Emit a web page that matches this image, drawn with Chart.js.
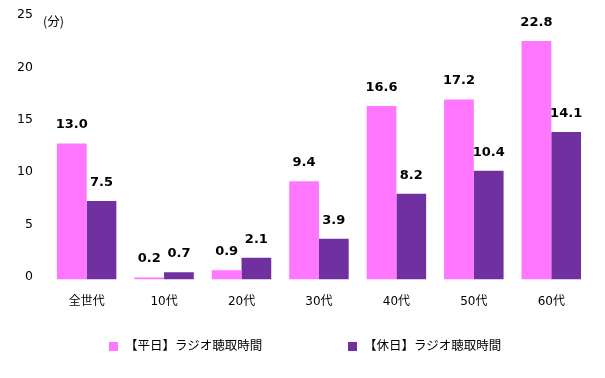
<!DOCTYPE html>
<html>
<head>
<meta charset="utf-8">
<script src="https://cdn.jsdelivr.net/npm/chart.js@4"></script>
<style>
  html, body { margin: 0; padding: 0; background: #fff; }
  #wrap { position: relative; width: 605px; height: 378px; }
  .lg { position: absolute; top: 336px; font: 12.5px "Noto Sans CJK JP", "DejaVu Sans", sans-serif; color: #000; white-space: nowrap; line-height: 18px; }
  .lg i { display: inline-block; width: 9px; height: 9px; margin-right: 7px; vertical-align: -0.5px; }
</style>
</head>
<body>
<div id="wrap">
  <canvas id="c" width="605" height="378"></canvas>
  <div class="lg" style="left:109px"><i style="background:#FF77FF"></i>【平日】ラジオ聴取時間</div>
  <div class="lg" style="left:348px"><i style="background:#7030A0"></i>【休日】ラジオ聴取時間</div>
</div>
<script>
const categories = ['全世代', '10代', '20代', '30代', '40代', '50代', '60代'];
const weekday = [13.0, 0.2, 0.9, 9.4, 16.6, 17.2, 22.8];
const holiday = [7.5, 0.7, 2.1, 3.9, 8.2, 10.4, 14.1];
const yTicks = [0, 5, 10, 15, 20, 25];

const FONT = '"DejaVu Sans", "Noto Sans CJK JP", sans-serif';

// value labels above bars + unit text
const valueLabels = {
  id: 'valueLabels',
  afterDatasetsDraw(chart) {
    const ctx = chart.ctx;
    ctx.save();
    ctx.font = 'bold 13px ' + FONT;
    ctx.fillStyle = '#000';
    ctx.textAlign = 'center';
    ctx.textBaseline = 'middle';
    chart.data.datasets.forEach((ds, i) => {
      chart.getDatasetMeta(i).data.forEach((bar, j) => {
        ctx.fillText(ds.data[j].toFixed(1), bar.x, bar.y - 18.5);
      });
    });
    ctx.font = '12.5px "Noto Sans CJK JP", sans-serif';
    ctx.textAlign = 'left';
    ctx.fillText('(分)', 43, 21);
    ctx.restore();
  }
};

new Chart(document.getElementById('c'), {
  type: 'bar',
  data: {
    labels: categories,
    datasets: [
      { label: '【平日】ラジオ聴取時間', data: weekday, backgroundColor: '#FF77FF' },
      { label: '【休日】ラジオ聴取時間', data: holiday, backgroundColor: '#7030A0' }
    ]
  },
  options: {
    responsive: false,
    animation: false,
    layout: { padding: { left: 2, right: 15, top: 18, bottom: 54 } },
    datasets: { bar: { barPercentage: 1, categoryPercentage: 0.768 } },
    plugins: { legend: { display: false }, tooltip: { enabled: false } },
    scales: {
      x: {
        grid: { display: false, drawTicks: false },
        border: { display: false },
        ticks: { color: '#000', font: { family: FONT, size: 12 }, padding: 15 }
      },
      y: {
        min: 0,
        max: 25,
        afterBuildTicks(axis) { axis.ticks = yTicks.map(v => ({ value: v })); },
        afterFit(axis) { axis.paddingTop = 0; axis.paddingBottom = 0; },
        grid: { display: false, drawTicks: false },
        border: { display: false },
        ticks: { color: '#000', font: { family: FONT, size: 12.5 }, padding: 15, labelOffset: -3 }
      }
    }
  },
  plugins: [valueLabels]
});
</script>
</body>
</html>
